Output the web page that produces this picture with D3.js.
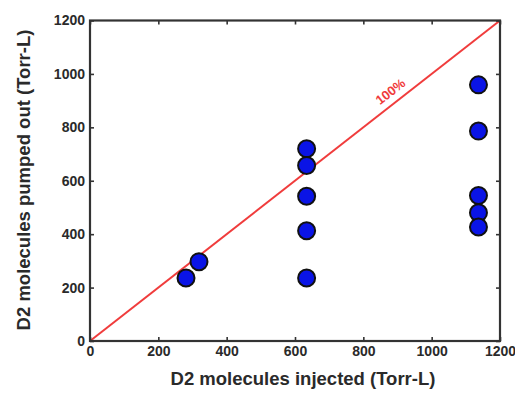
<!DOCTYPE html>
<html><head><meta charset="utf-8">
<script src="https://cdn.jsdelivr.net/npm/d3@7"></script>
<style>body{margin:0;background:#fff}svg{display:block}</style>
</head><body>
<script>
const injected = [281, 319, 634, 634, 634, 634, 634, 1137, 1137, 1137, 1137, 1137];
const pumped   = [236, 297, 720, 657, 542, 413, 236, 959, 786, 545, 480, 427];
const xTicks = [0, 200, 400, 600, 800, 1000, 1200];
const yTicks = [0, 200, 400, 600, 800, 1000, 1200];
const refLine = [0, 1200];
const xLabel = "D2 molecules injected (Torr-L)";
const yLabel = "D2 molecules pumped out (Torr-L)";
const refText = "100%";

const W = 515, H = 395;
const m = {left: 90, right: 15, top: 20.5, bottom: 54};
const svg = d3.select("body").append("svg").attr("width", W).attr("height", H);
const x = d3.scaleLinear().domain([0, 1200]).range([m.left, W - m.right]);
const y = d3.scaleLinear().domain([0, 1200]).range([H - m.bottom, m.top]);
const font = "'Liberation Sans', Arial, sans-serif";
const axisCol = "#333";

// reference line
svg.append("line")
  .attr("x1", x(refLine[0])).attr("y1", y(refLine[0]))
  .attr("x2", x(refLine[1])).attr("y2", y(refLine[1]))
  .attr("stroke", "#f03c3c").attr("stroke-width", 2);

// frame
svg.append("rect").attr("x", x(0)).attr("y", y(1200))
  .attr("width", x(1200) - x(0)).attr("height", y(0) - y(1200))
  .attr("fill", "none").attr("stroke", axisCol).attr("stroke-width", 2.2);

function styleAxis(g) {
  g.select(".domain").remove();
  g.selectAll(".tick line").attr("stroke", axisCol).attr("stroke-width", 1.6);
  g.selectAll(".tick text").attr("fill", "#2a2a2a").attr("font-family", font)
    .attr("font-weight", "bold").attr("font-size", 14);
}
// bottom axis (ticks inward)
svg.append("g").attr("transform", `translate(0,${y(0)})`)
  .call(d3.axisBottom(x).tickValues(xTicks).tickSize(-4).tickPadding(5).tickFormat(d3.format("d")))
  .call(styleAxis);
svg.append("g").attr("transform", `translate(0,${y(1200)})`)
  .call(d3.axisTop(x).tickValues(xTicks).tickSize(-4).tickFormat(""))
  .call(styleAxis);
svg.append("g").attr("transform", `translate(${x(0)},0)`)
  .call(d3.axisLeft(y).tickValues(yTicks).tickSize(-4).tickPadding(5).tickFormat(d3.format("d")))
  .call(styleAxis);
svg.append("g").attr("transform", `translate(${x(1200)},0)`)
  .call(d3.axisRight(y).tickValues(yTicks).tickSize(-4).tickFormat(""))
  .call(styleAxis);

// points
const data = injected.map((v, i) => ({x: v, y: pumped[i]}));
svg.append("g").selectAll("circle").data(data).join("circle")
  .attr("cx", d => x(d.x)).attr("cy", d => y(d.y)).attr("r", 8.5)
  .attr("fill", "#0a14e6").attr("stroke", "#111").attr("stroke-width", 2);

// ref label
const ang = Math.atan2(y(0) - y(1200), x(1200) - x(0)) * 180 / Math.PI;
const lx = x(900), ly = y(900);
svg.append("text").attr("x", lx).attr("y", ly).attr("dy", -7)
  .attr("transform", `rotate(${-ang},${lx},${ly})`)
  .attr("text-anchor", "middle").attr("fill", "#f03c3c")
  .attr("font-family", font).attr("font-weight", "bold").attr("font-size", 13)
  .text(refText);

// axis titles
svg.append("text").attr("x", 303).attr("y", 385)
  .attr("text-anchor", "middle").attr("fill", "#2a2a2a").attr("font-family", font)
  .attr("font-weight", "bold").attr("font-size", 18.5).text(xLabel);
svg.append("text").attr("transform", `translate(30,180) rotate(-90)`)
  .attr("text-anchor", "middle").attr("fill", "#2a2a2a").attr("font-family", font)
  .attr("font-weight", "bold").attr("font-size", 18.5).text(yLabel);
</script>
</body></html>
